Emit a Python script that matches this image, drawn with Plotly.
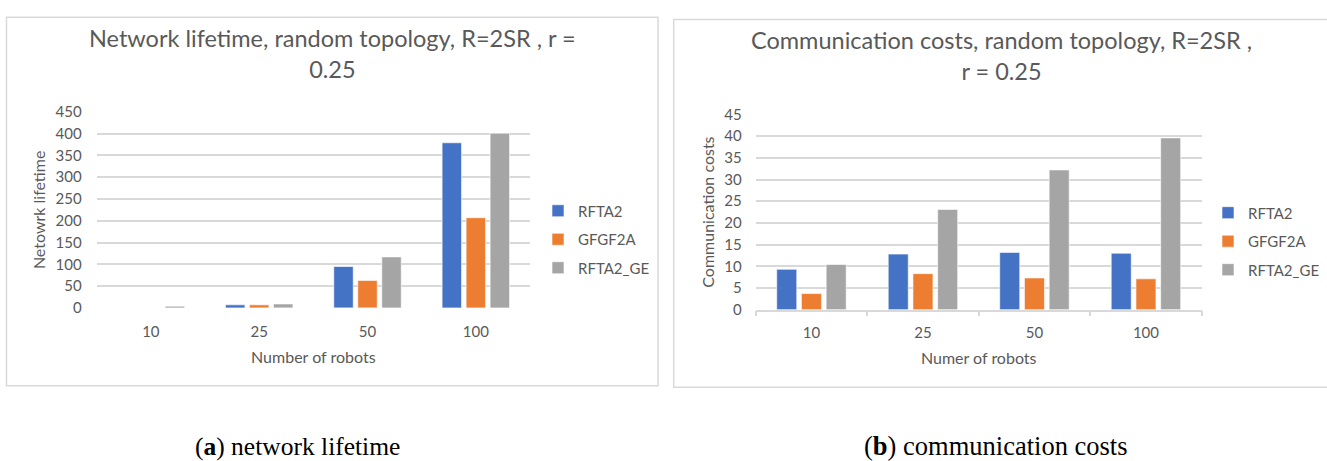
import plotly.graph_objects as go

categories = ["10", "25", "50", "100"]
series_names = ["RFTA2", "GFGF2A", "RFTA2_GE"]
colors = ["#4472C4", "#ED7D31", "#A5A5A5"]

lifetime_rfta2 = [0, 7, 95, 379]
lifetime_gfgf2a = [0, 7, 63, 207]
lifetime_rfta2_ge = [4, 9, 117, 401]

comm_rfta2 = [9.3, 12.8, 13.2, 13.0]
comm_gfgf2a = [3.7, 8.3, 7.3, 7.1]
comm_rfta2_ge = [10.4, 23.1, 32.2, 39.6]

lifetime_ticks = [0, 50, 100, 150, 200, 250, 300, 350, 400, 450]
comm_ticks = [0, 5, 10, 15, 20, 25, 30, 35, 40, 45]

W, H = 1327, 461
FONT = "Lato"
GREY_TXT = "#595959"
GRID = "#d9d9d9"

def px(x):
    return x / W

def py(y):
    return 1 - y / H

fig = go.Figure()

left_data = [lifetime_rfta2, lifetime_gfgf2a, lifetime_rfta2_ge]
right_data = [comm_rfta2, comm_gfgf2a, comm_rfta2_ge]

for name, col, vals in zip(series_names, colors, left_data):
    fig.add_trace(go.Bar(x=categories, y=vals, name=name, marker=dict(color=col, line=dict(color="rgba(255,255,255,0.6)", width=1)),
                         xaxis="x", yaxis="y", legend="legend", legendgroup="L" + name))
for name, col, vals in zip(series_names, colors, right_data):
    fig.add_trace(go.Bar(x=categories, y=vals, name=name, marker=dict(color=col, line=dict(color="rgba(255,255,255,0.6)", width=1)),
                         xaxis="x2", yaxis="y2", legend="legend2", legendgroup="R" + name))

tickfont = dict(family=FONT, size=15, color=GREY_TXT)
axtitlefont = dict(family=FONT, size=16, color=GREY_TXT)

fig.update_layout(
    width=W, height=H,
    margin=dict(l=0, r=0, t=0, b=0),
    paper_bgcolor="white", plot_bgcolor="white",
    barmode="group", bargap=0.335, bargroupgap=0.19,
    font=dict(family=FONT, color=GREY_TXT),
    xaxis=dict(domain=[px(96.7), px(530)], anchor="y", type="category", categoryorder="array", categoryarray=categories,
               showgrid=False, showline=False, ticks="", tickfont=tickfont, ticklabelstandoff=13,
               title=dict(text="Number of robots", font=axtitlefont, standoff=12)),
    yaxis=dict(domain=[py(310), py(106)], anchor="x", range=[0, 450], tickvals=lifetime_ticks,
               showgrid=True, gridcolor=GRID, gridwidth=1.5, zeroline=False, showline=False, ticks="",
               tickfont=tickfont, ticklabelstandoff=14,
               title=dict(text="Netowrk lifetime", font=axtitlefont, standoff=5)),
    xaxis2=dict(domain=[px(755.7), px(1201.7)], anchor="y2", type="category", categoryorder="array", categoryarray=categories,
                showgrid=False, showline=True, linecolor=GRID, linewidth=1.5, ticks="outside", tickson="boundaries",
                ticklen=5, tickcolor=GRID, tickwidth=1.5, tickfont=tickfont, ticklabelstandoff=9,
                title=dict(text="Numer of robots", font=axtitlefont, standoff=12)),
    yaxis2=dict(domain=[py(311.8), py(108.7)], anchor="x2", range=[0, 45], tickvals=comm_ticks,
                showgrid=True, gridcolor=GRID, gridwidth=1.5, zeroline=False, showline=False, ticks="",
                tickfont=tickfont, ticklabelstandoff=13,
                title=dict(text="Communication costs", font=axtitlefont, standoff=5)),
    legend=dict(x=px(538), y=py(192), xanchor="left", yanchor="top", font=dict(family=FONT, size=15, color=GREY_TXT),
                tracegroupgap=6, itemwidth=30, bgcolor="rgba(0,0,0,0)"),
    legend2=dict(x=px(1208), y=py(194), xanchor="left", yanchor="top", font=dict(family=FONT, size=15, color=GREY_TXT),
                 tracegroupgap=6, itemwidth=30, bgcolor="rgba(0,0,0,0)"),
    shapes=[
        dict(type="rect", xref="paper", yref="paper", x0=px(6.5), x1=px(658), y0=py(391), y1=py(7.5),
             line=dict(color=GRID, width=1.5), layer="below"),
        dict(type="rect", xref="paper", yref="paper", x0=px(673.7), x1=px(1330), y0=py(392.7), y1=py(10),
             line=dict(color=GRID, width=1.5), layer="below"),
    ],
    annotations=[
        dict(text="Network lifetime, random topology, R=2SR , r =<br>0.25", xref="paper", yref="paper",
             x=px(332.5), y=py(45), xanchor="center", yanchor="middle", showarrow=False,
             font=dict(family=FONT, size=23.5, color=GREY_TXT)),
        dict(text="Communication costs, random topology, R=2SR ,<br>r = 0.25", xref="paper", yref="paper",
             x=px(1001.5), y=py(47.5), xanchor="center", yanchor="middle", showarrow=False,
             font=dict(family=FONT, size=23.5, color=GREY_TXT)),
        dict(text="(<b>a</b>) network lifetime", xref="paper", yref="paper", x=px(297), y=py(454),
             xanchor="center", yanchor="middle", showarrow=False,
             font=dict(family="Liberation Serif", size=25.5, color="black")),
        dict(text="(<b>b</b>) communication costs", xref="paper", yref="paper", x=px(996), y=py(454),
             xanchor="center", yanchor="middle", showarrow=False,
             font=dict(family="Liberation Serif", size=26.5, color="black")),
    ],
)

fig.write_html("out.html", config={"displayModeBar": False},
               post_script="document.body.style.margin='0';document.body.style.overflow='hidden';")
